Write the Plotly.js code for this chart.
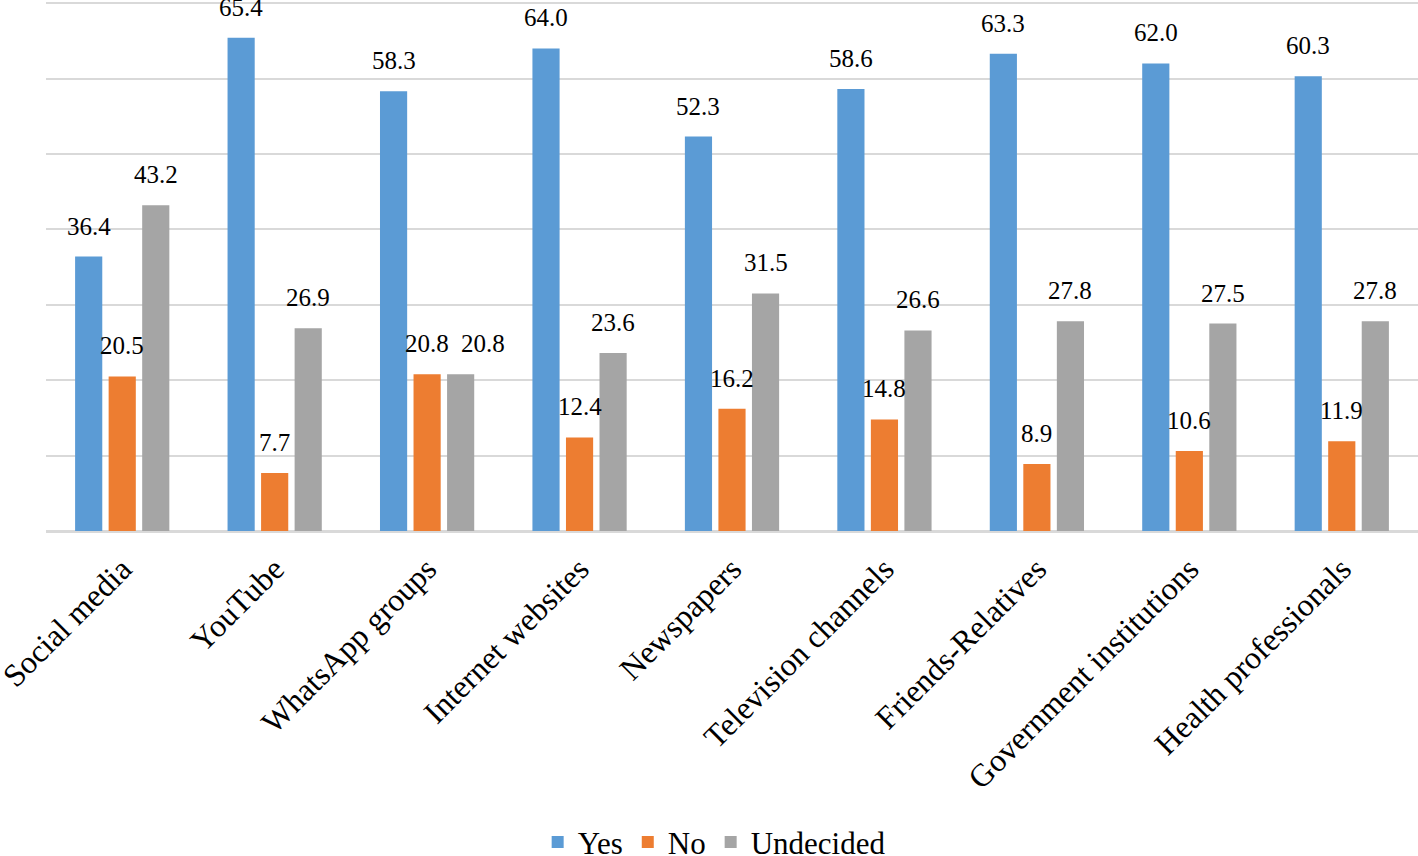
<!DOCTYPE html>
<html>
<head>
<meta charset="utf-8">
<script src="https://cdn.plot.ly/plotly-3.0.1.min.js"></script>
<style>html,body{margin:0;padding:0;background:#fff;}#chart{width:1418px;height:856px;}</style>
</head>
<body>
<div id="chart"></div>
<script>
const categories = ["Social media", "YouTube", "WhatsApp groups", "Internet websites", "Newspapers", "Television channels", "Friends-Relatives", "Government institutions", "Health professionals"];
const seriesNames = ["Yes", "No", "Undecided"];
const yesValues = [36.4, 65.4, 58.3, 64.0, 52.3, 58.6, 63.3, 62.0, 60.3];
const noValues = [20.5, 7.7, 20.8, 12.4, 16.2, 14.8, 8.9, 10.6, 11.9];
const undecidedValues = [43.2, 26.9, 20.8, 23.6, 31.5, 26.6, 27.8, 27.5, 27.8];

const colors = ["#5b9bd5", "#ed7d31", "#a5a5a5"];
const FONT = 'Liberation Serif, Times New Roman, serif';
const allSeries = [yesValues, noValues, undecidedValues];

const traces = allSeries.map((vals, s) => ({
  type: 'bar',
  name: seriesNames[s],
  x: categories,
  y: vals,
  marker: {color: colors[s], line: {width: 0}},
  hoverinfo: 'x+y+name'
}));

// value labels above bars
const plotW = 1418 - 46;
const catW = plotW / categories.length;
const bargap = 0.34;
const slot = catW * (1 - bargap) / 3;
const annotations = [];
allSeries.forEach((vals, s) => {
  vals.forEach((v, i) => {
    // nudge a label right if it would collide with the neighbouring label
    const prev = s > 0 ? allSeries[s - 1][i] : null;
    const nudge = (prev !== null && Math.abs(prev - v) < 3) ? 22 : 0;
    annotations.push({
      x: categories[i], y: v, xref: 'x', yref: 'y',
      text: v.toFixed(1),
      showarrow: false,
      xanchor: 'center', yanchor: 'bottom',
      xshift: (s - 1) * slot + nudge, yshift: 15,
      font: {family: FONT, size: 25, color: '#000'}
    });
  });
});

const layout = {
  width: 1418, height: 856,
  margin: {l: 46, r: 0, t: 2, b: 325},
  paper_bgcolor: '#fff', plot_bgcolor: '#fff',
  barmode: 'group', bargap: bargap, bargroupgap: 0.19,
  font: {family: FONT, color: '#000'},
  xaxis: {
    type: 'category', tickangle: -45, showgrid: false, showline: false,
    ticks: '', ticklabelstandoff: 12,
    tickfont: {family: FONT, size: 32, color: '#000'}, automargin: false
  },
  yaxis: {
    range: [0, 70.15], dtick: 10, showticklabels: false, ticks: '',
    showgrid: true, gridcolor: '#d9d9d9', gridwidth: 2,
    zeroline: true, zerolinecolor: '#d9d9d9', zerolinewidth: 3,
    showline: false, automargin: false
  },
  showlegend: true,
  legend: {
    orientation: 'h', x: 0.487, xanchor: 'center', yref: 'container', y: 0.016, yanchor: 'middle',
    font: {family: FONT, size: 31, color: '#000'}, traceorder: 'normal', itemwidth: 30
  },
  annotations: annotations
};

Plotly.newPlot('chart', traces, layout, {displayModeBar: false, staticPlot: true});
</script>
</body>
</html>
